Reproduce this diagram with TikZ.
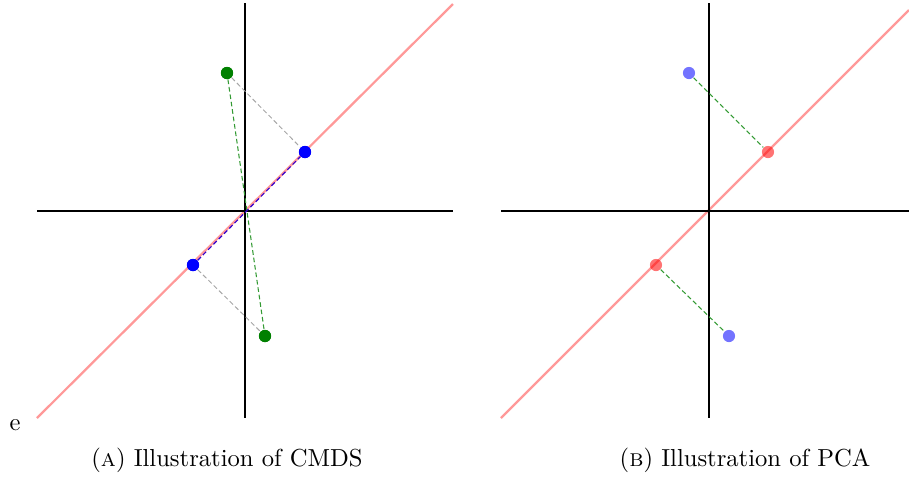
\documentclass[tikz,border=0pt]{standalone}
\usetikzlibrary{positioning}

\definecolor{mplgreen}{HTML}{008000}
\definecolor{mplblue}{HTML}{0000FF}
\definecolor{mplred}{HTML}{FF0000}

\begin{document}
\begin{tikzpicture}[
    x=0.015cm, y=-0.015cm,
    every node/.style={font=\rmfamily\fontsize{10.5}{12}\selectfont},
    % 坐标轴
    axis/.style={black, line width=1pt},
    % 主方向
    pcline/.style={mplred!40, line width=0.95pt},
    % 数据点
    dot/.style={circle, inner sep=0pt, minimum size=5.2pt},
    gdot/.style={dot, fill=mplgreen},
    bdot/.style={dot, fill=mplblue},
    bdotl/.style={dot, fill=mplblue, fill opacity=0.55},
    rdotl/.style={dot, fill=mplred, fill opacity=0.55},
    % 连线
    proj/.style={dashed, gray!70, line width=0.4pt, dash pattern=on 2pt off 1.2pt},
    link/.style={dashed, mplgreen!80, line width=0.45pt, dash pattern=on 2pt off 1.2pt},
    along/.style={dashed, mplblue!80!mplred, line width=0.5pt, dash pattern=on 2pt off 1.2pt},
    captext/.style={anchor=base},
]
\useasboundingbox (0,0) rectangle (909,476);

%% ── (A) CMDS ────────────────────────────────────────
\coordinate (oa) at (245,211);
\coordinate (ya1) at (245,3);   \coordinate (ya2) at (245,418);
\coordinate (xa1) at (37,211);  \coordinate (xa2) at (453,211);
\coordinate (la1) at (37,418);  \coordinate (la2) at (453,4);

\draw[pcline] (la1) -- (la2);
\draw[axis] (ya1) -- (ya2);
\draw[axis] (xa1) -- (xa2);

\node[gdot] (ga1) at (227,73) {};
\node[gdot] (ga2) at (265,336) {};
\node[bdot] (ba1) at (305,152) {};
\node[bdot] (ba2) at (193,265) {};

\draw[proj] (ga1) -- (ba1);
\draw[proj] (ba2) -- (ga2);
\draw[link] (ga1) -- (ga2);
\draw[along] (ba2) -- (ba1);
\node[bdot] at (ba1) {};
\node[bdot] at (ba2) {};
\node[gdot] at (ga1) {};
\node[gdot] at (ga2) {};

\node[captext] (e) at (15,430) {e};
\node[captext] (capa) at (227,466) {(\textsc{a}) Illustration of CMDS};

%% ── (B) PCA ─────────────────────────────────────────
\coordinate (ob) at (709,211);
\coordinate (yb1) at (709,3);   \coordinate (yb2) at (709,418);
\coordinate (xb1) at (501,211); \coordinate (xb2) at (909,211);
\coordinate (lb1) at (501,418); \coordinate (lb2) at (909,10);

\begin{scope}
\clip (460,0) rectangle (909,476);
\draw[pcline] (lb1) -- (lb2);
\draw[axis] (yb1) -- (yb2);
\draw[axis] (xb1) -- (xb2);
\end{scope}

\node[bdotl] (bb1) at (689,73) {};
\node[bdotl] (bb2) at (729,336) {};
\node[rdotl] (rb1) at (768,152) {};
\node[rdotl] (rb2) at (656,265) {};

\draw[link] (bb1) -- (rb1);
\draw[link] (rb2) -- (bb2);

\node[captext] (capb) at (745,466) {(\textsc{b}) Illustration of PCA};

\end{tikzpicture}
\end{document}
